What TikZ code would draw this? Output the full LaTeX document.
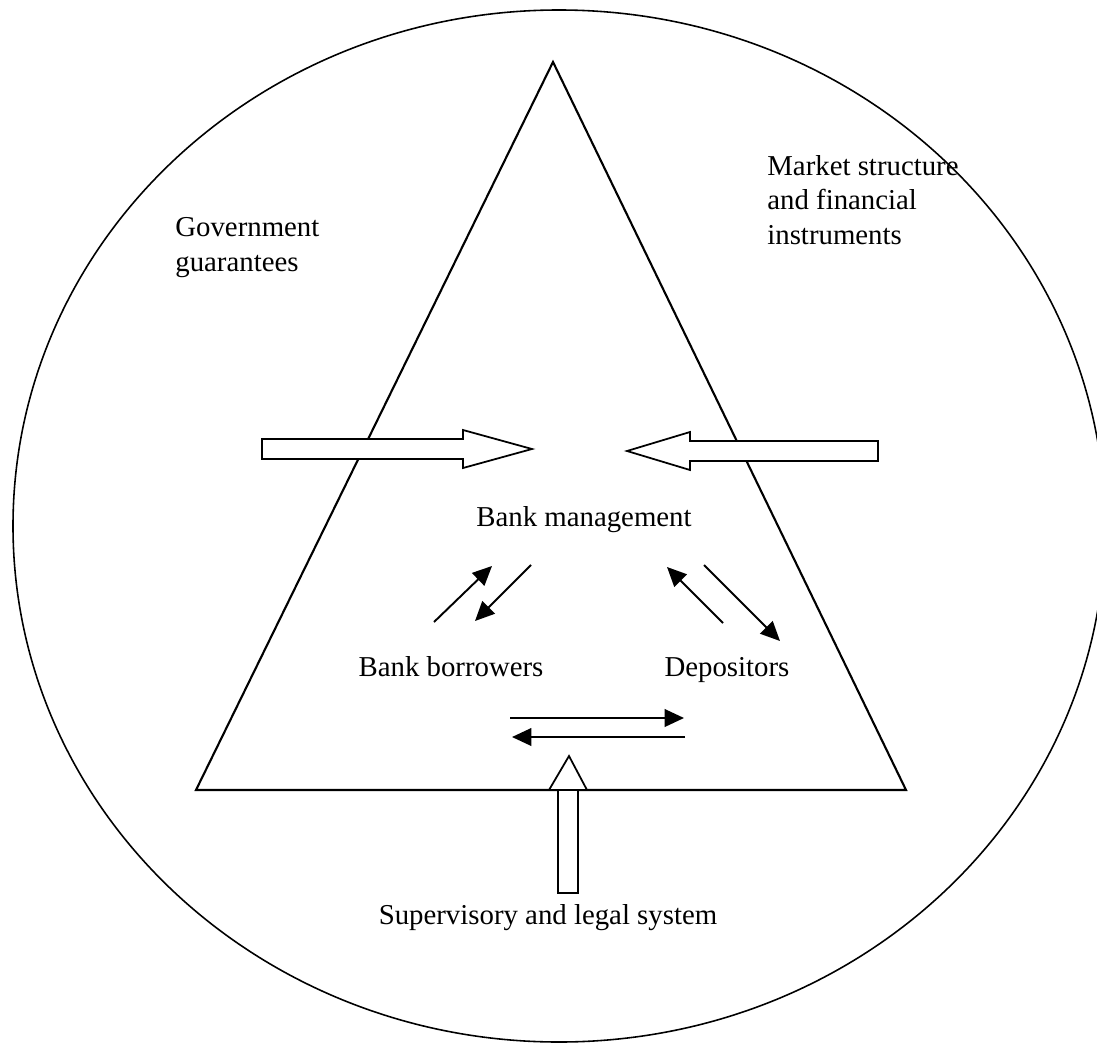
\documentclass[tikz,border=0pt]{standalone}
\usepackage{fontspec}
\setmainfont{Liberation Serif}
\usetikzlibrary{arrows.meta}
\tikzset{
  lbl/.style={inner sep=0pt, font=\fontsize{16.4}{19.5}\selectfont},
  flow/.style={line width=1.1pt, -{Triangle[length=11pt,width=10pt]}},
  bigarrow/.style={draw, line width=1pt, fill=white, line join=miter},
}
\begin{document}
\begin{tikzpicture}[x=0.02cm,y=-0.02cm]
\useasboundingbox (0,0) rectangle (1097,1044);
\clip (0,0) rectangle (1097,1044);
%\draw[very thin,gray,step=50] (0,0) grid (1097,1044);
\draw[line width=0.9pt] (559,526) ellipse [x radius=546, y radius=516];
\draw[line width=1.2pt,line join=miter] (553,62) -- (906,790) -- (196,790) -- cycle;
% the three outside forces
\draw[bigarrow] (262,439) -- (463,439) -- (463,430) -- (532,449) -- (463,468) -- (463,459) -- (262,459) -- cycle;
\draw[bigarrow] (878,441) -- (690,441) -- (690,432) -- (627,451) -- (690,470) -- (690,461) -- (878,461) -- cycle;
\draw[bigarrow] (558,893) -- (558,790) -- (549,790) -- (569,756) -- (587,790) -- (578,790) -- (578,893) -- cycle;
\draw[line width=1.2pt] (549,790) -- (587,790);
% labels (base of a multi-line node = its last line)
\node[lbl,anchor=base west,align=left] (gov) at (175,271) {Government\\guarantees};
\node[lbl,anchor=base west,align=left] (mkt) at (767,244) {Market structure\\and financial\\instruments};
\node[lbl,anchor=base] (mgmt) at (584,526) {Bank management};
\node[lbl,anchor=base] (borr) at (451,676) {Bank borrowers};
\node[lbl,anchor=base] (dep) at (727,676) {Depositors};
\node[lbl,anchor=base] (sup) at (548,924) {Supervisory and legal system};
% ends of the small arrows
\coordinate (b1) at (434,622); \coordinate (m1) at (492,566);
\coordinate (m2) at (531,565); \coordinate (b2) at (475,621);
\coordinate (d1) at (723,623); \coordinate (m3) at (667,567);
\coordinate (m4) at (704,565); \coordinate (d2) at (780,641);
\coordinate (b3) at (510,718); \coordinate (d3) at (684,718);
\coordinate (d4) at (685,737); \coordinate (b4) at (512,737);
\draw[flow] (b1) -- (m1);
\draw[flow] (m2) -- (b2);
\draw[flow] (d1) -- (m3);
\draw[flow] (m4) -- (d2);
\draw[flow] (b3) -- (d3);
\draw[flow] (d4) -- (b4);
\end{tikzpicture}
\end{document}
